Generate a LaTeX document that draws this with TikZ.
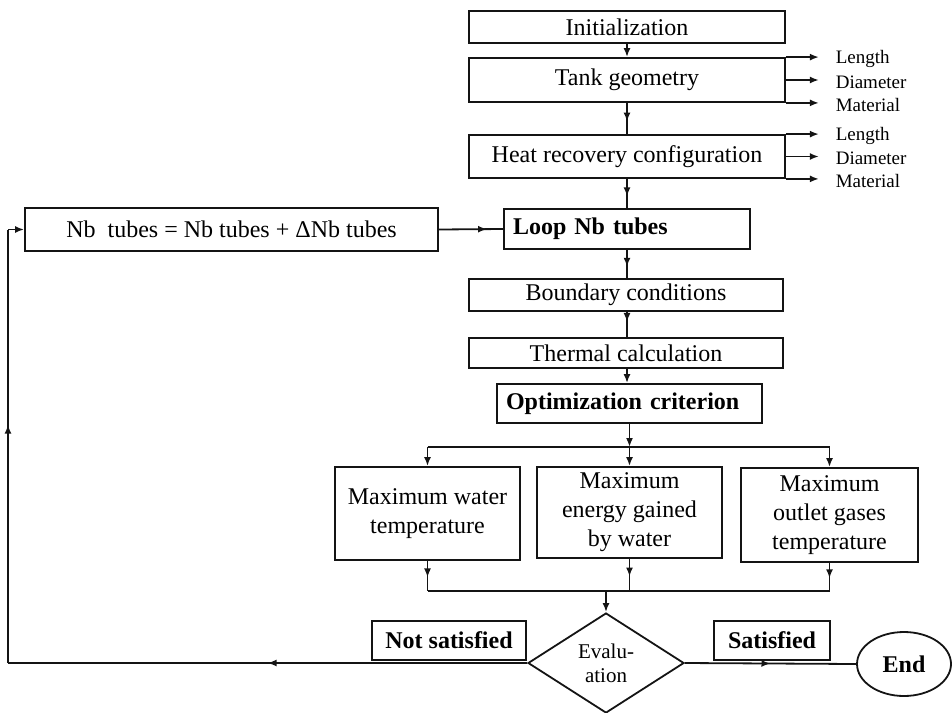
\documentclass[tikz,border=0pt]{standalone}
\usepackage{fontspec}
\setmainfont{Liberation Serif}
\usepackage{tikz}
\usetikzlibrary{shapes.geometric, arrows.meta, decorations.markings}
\definecolor{inkline}{RGB}{20, 20, 20}
\tikzset{
  font=\fontsize{12}{14.5}\selectfont,
  procbox/.style={
    rectangle, draw=inkline, line width=0.9pt, inner sep=0pt,
    align=center
  },
  boldbox/.style={procbox, font=\fontsize{12}{14.5}\selectfont\bfseries},
  decisionbox/.style={
    diamond, draw=inkline, line width=0.9pt, inner sep=0pt, aspect=1.56,
    minimum width=78pt, minimum height=50pt, align=center,
    font=\fontsize{10.5}{12}\selectfont
  },
  endbox/.style={
    ellipse, draw=inkline, line width=0.9pt, inner sep=0pt,
    minimum width=47pt, minimum height=32pt,
    font=\fontsize{12}{14.5}\selectfont\bfseries
  },
  sidelabel/.style={anchor=west, inner sep=0pt, xshift=8pt, yshift=-1pt,
    font=\fontsize{9.5}{11}\selectfont},
  plainline/.style={draw=inkline, line width=0.9pt},
  endarrow/.style={plainline, -{Latex[length=4.5pt, width=3.5pt]}},
  midarrow/.style={plainline, postaction={decorate},
    decoration={markings, mark=at position #1 with {\arrow{Latex[length=4.5pt, width=3.5pt]}}}},
  midarrow/.default=0.6
}
\begin{document}
\begin{tikzpicture}[x=0.5pt, y=-0.5pt]
  \useasboundingbox (0,0) rectangle (952,712);

  % Main column
  \node[procbox, minimum width=158pt, minimum height=16pt] (init) at (627,27) {Initialization};
  \node[procbox, minimum width=158pt, minimum height=22pt] (tank) at (627,80) {Tank geometry};
  \node[procbox, minimum width=158pt, minimum height=21.5pt] (heat) at (627,156.5) {Heat recovery configuration};
  \node[boldbox, minimum width=123pt, minimum height=20pt, text width=114pt, align=left] (loop) at (627,229) {Loop Nb tubes};
  \node[procbox, minimum width=157pt, minimum height=16pt] (bound) at (626,295) {Boundary conditions};
  \node[procbox, minimum width=157pt, minimum height=15pt] (therm) at (626,353) {Thermal calculation};
  \node[boldbox, minimum width=132.5pt, minimum height=19.5pt, text width=123.5pt, align=left] (opt) at (629.5,403.5) {Optimization criterion};

  % Update of the number of tubes
  \node[procbox, minimum width=206.5pt, minimum height=21.5pt] (nbupd) at (231.5,229.5) {Nb\ \ tubes = Nb tubes + ΔNb tubes};

  % Criteria
  \node[procbox, minimum width=92.5pt, minimum height=46.5pt] (water) at (427.5,513.5) {Maximum water\\temperature};
  \node[procbox, minimum width=92.5pt, minimum height=45.5pt] (energy) at (629.5,512.5) {Maximum\\energy gained\\by water};
  \node[procbox, minimum width=88.5pt, minimum height=47pt] (gases) at (829.5,515) {Maximum\\outlet gases\\temperature};

  % Evaluation and outcomes
  \node[decisionbox] (eval) at (606,663) {Evalu-\\ation};
  \node[boldbox, minimum width=77pt, minimum height=19.5pt] (notsat) at (449,640.5) {Not satisfied};
  \node[boldbox, minimum width=58pt, minimum height=19.5pt] (sat) at (772,640.5) {Satisfied};
  \node[endbox] (finish) at (904,664) {End};

  \coordinate (split) at (629.5,447);
  \coordinate (merge) at (606,591);
  \coordinate (fbbot) at (8,663);
  \coordinate (fbtop) at (8,229.5);

  % Side outputs
  \foreach \bx in {tank,heat}{
    \draw[endarrow] (\bx.north east) -- ++(33,0) node[sidelabel] (\bx len) {Length};
    \draw[endarrow] (\bx.east) -- ++(33,0) node[sidelabel] (\bx dia) {Diameter};
    \draw[endarrow] (\bx.south east) -- ++(33,0) node[sidelabel] (\bx mat) {Material};
  }

  % Flow down the column
  \draw[endarrow] (init) -- (tank);
  \draw[midarrow] (tank) -- (heat);
  \draw[midarrow] (heat) -- (loop);
  \draw[midarrow] (loop.south) -- (loop.south |- bound.north);
  \draw[midarrow=0.4] (bound.south -| loop.south) -- (loop.south |- therm.north);
  \draw[endarrow] (therm.south -| loop.south) -- (loop.south |- opt.north);
  \draw[endarrow] (opt.south) -- (split);

  % Split to the criteria and merge
  \draw[plainline] (water.north |- split) -- (gases.north |- split);
  \foreach \cr in {water,energy,gases}{
    \draw[endarrow] (\cr.north |- split) -- (\cr.north);
    \draw[midarrow=0.55] (\cr.south) -- (\cr.south |- merge);
  }
  \draw[plainline] (water.south |- merge) -- (gases.south |- merge);
  \draw[endarrow] (merge) -- (eval.north);

  % Outcomes
  \draw[midarrow=0.5] (eval.east) -- (finish.west);
  \draw[midarrow=0.5] (eval.west) -- (fbbot);
  \draw[midarrow=0.55] (fbbot) -- (fbtop);
  \draw[endarrow] (fbtop) -- (nbupd.west);
  \draw[midarrow=0.75] (nbupd.east) -- (loop.west);

\end{tikzpicture}
\end{document}
